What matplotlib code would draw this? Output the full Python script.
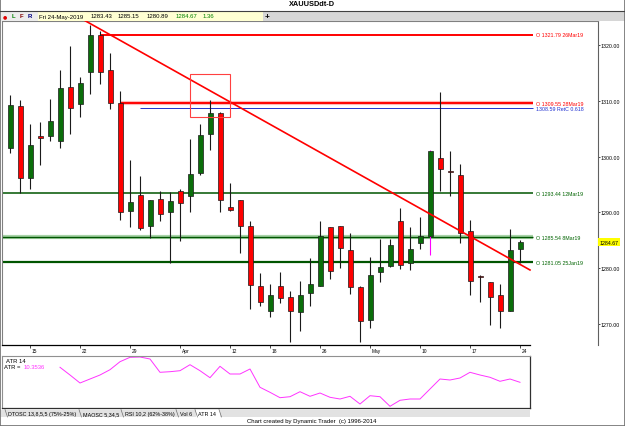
import matplotlib.pyplot as plt
from matplotlib.patches import Rectangle
from matplotlib.lines import Line2D
from matplotlib.transforms import blended_transform_factory

plt.rcParams['font.family'] = ['Liberation Sans', 'DejaVu Sans']

# =========================
# 数据：XAUUSD 日线 2019-03-13 ~ 2019-05-24
# =========================

dates = [
    '2019-03-13', '2019-03-14', '2019-03-15',
    '2019-03-18', '2019-03-19', '2019-03-20', '2019-03-21', '2019-03-22',
    '2019-03-25', '2019-03-26', '2019-03-27', '2019-03-28', '2019-03-29',
    '2019-04-01', '2019-04-02', '2019-04-03', '2019-04-04', '2019-04-05',
    '2019-04-08', '2019-04-09', '2019-04-10', '2019-04-11', '2019-04-12',
    '2019-04-15', '2019-04-16', '2019-04-17', '2019-04-18',
    '2019-04-22', '2019-04-23', '2019-04-24', '2019-04-25', '2019-04-26',
    '2019-04-29', '2019-04-30', '2019-05-01', '2019-05-02', '2019-05-03',
    '2019-05-06', '2019-05-07', '2019-05-08', '2019-05-09', '2019-05-10',
    '2019-05-13', '2019-05-14', '2019-05-15', '2019-05-16', '2019-05-17',
    '2019-05-20', '2019-05-21', '2019-05-22', '2019-05-23', '2019-05-24',
]

opens = [
    1301.6, 1309.0, 1296.1, 1303.7, 1303.6, 1302.8, 1312.4, 1309.4,
    1315.1, 1321.79, 1315.5, 1309.55, 1290.3, 1293.1, 1287.6, 1292.4,
    1290.0, 1293.8, 1292.9, 1297.1, 1304.0, 1307.8, 1290.9, 1292.2,
    1287.5, 1276.8, 1272.3, 1276.8, 1274.8, 1272.1, 1275.6, 1276.9,
    1287.3, 1287.5, 1283.3, 1276.6, 1270.8, 1279.3, 1280.5, 1288.5,
    1280.9, 1284.5, 1285.7, 1299.7, 1297.4, 1296.7, 1286.7, 1278.7,
    1277.6, 1275.2, 1272.3, 1283.43,
]
highs = [
    1311.0, 1310.1, 1305.8, 1306.1, 1310.3, 1315.4, 1319.8, 1314.2,
    1323.5, 1322.5, 1318.6, 1311.8, 1299.3, 1296.5, 1292.3, 1293.9,
    1293.7, 1294.1, 1303.1, 1305.8, 1310.1, 1307.9, 1295.3, 1292.3,
    1288.5, 1279.2, 1277.2, 1279.4, 1276.0, 1277.7, 1281.8, 1288.5,
    1287.3, 1287.6, 1286.4, 1276.9, 1282.1, 1285.2, 1285.2, 1290.8,
    1287.3, 1289.1, 1301.2, 1311.5, 1300.9, 1298.7, 1288.7, 1278.8,
    1277.6, 1277.2, 1287.0, 1285.15,
]
lows = [
    1300.6, 1293.5, 1294.1, 1298.4, 1302.7, 1301.6, 1304.0, 1307.0,
    1311.1, 1312.9, 1308.5, 1288.7, 1287.3, 1286.9, 1285.5, 1288.5,
    1281.0, 1284.9, 1290.1, 1296.7, 1301.2, 1290.1, 1290.3, 1282.7,
    1272.7, 1273.3, 1271.3, 1273.8, 1266.8, 1268.7, 1273.3, 1276.9,
    1278.1, 1280.0, 1275.4, 1266.8, 1269.4, 1277.5, 1280.2, 1279.9,
    1279.7, 1283.5, 1282.3, 1293.9, 1293.0, 1284.5, 1275.3, 1274.0,
    1269.9, 1269.4, 1272.3, 1280.89,
]
closes = [
    1309.3, 1296.2, 1302.0, 1303.3, 1306.3, 1312.2, 1308.6, 1313.1,
    1321.7, 1315.2, 1309.6, 1290.0, 1291.9, 1287.2, 1292.3, 1289.8,
    1292.0, 1291.6, 1296.8, 1303.8, 1307.7, 1292.2, 1290.4, 1287.6,
    1277.0, 1273.9, 1275.3, 1274.7, 1272.3, 1275.3, 1277.2, 1285.7,
    1279.6, 1283.6, 1276.6, 1270.6, 1278.8, 1280.3, 1284.2, 1280.6,
    1283.5, 1285.8, 1300.9, 1297.8, 1297.2, 1286.4, 1277.7, 1278.4,
    1274.8, 1272.3, 1283.3, 1284.67,
]

# ATR(14)，从 2019-03-20 开始
atr_start = '2019-03-20'
atr_values = [
    11.85, 11.08, 10.28, 10.68, 11.08, 11.61, 12.41, 12.85, 12.88, 12.68,
    11.35, 11.41, 11.51, 12.11, 11.51, 10.81, 11.95, 11.18, 11.18, 11.68,
    9.85, 9.35, 8.81, 8.91, 9.41, 8.95, 9.28, 8.85, 8.68, 8.95,
    8.18, 9.01, 8.91, 7.95, 8.55, 8.68, 8.68, 9.68, 10.68, 10.58,
    10.78, 11.35, 11.08, 10.85, 10.45, 10.68, 10.35,
]

tick_dates = ['2019-03-15', '2019-03-22', '2019-03-29', '2019-04-05',
              '2019-04-12', '2019-04-18', '2019-04-26', '2019-05-03',
              '2019-05-10', '2019-05-17', '2019-05-24']
tick_labels = ['15', '22', '29', 'Apr', '12', '18', '26', 'May', '10', '17', '24']

price_ticks = [1270, 1280, 1290, 1300, 1310, 1320]

# 水平线
level_prices = [1321.79, 1309.55, 1308.59, 1293.44, 1285.54, 1281.05]
level_labels = ['O 1321.79 26Mar19', 'O 1309.55 28Mar19', '1308.59 RetC 0.618',
                'O 1293.44 12Mar19', 'O 1285.54 8Mar19', 'O 1281.05 25Jan19']
level_starts = ['2019-03-26', '2019-03-28', '2019-04-01', None, None, None]

# 趋势线 (bar 序号, 价格) 和 红框
trend_x = [7.5, 52.0]
trend_y = [1324.3, 1279.7]
box_dates = ['2019-04-08', '2019-04-12']
box_prices = [1307.0, 1314.7]

highlight_date = '2019-05-13'
last_info = ['Fri 24-May-2019', '1283.43', '1285.15', '1280.89', '1284.67', '1.36']

# =========================
# 画图
# =========================

W, H = 625, 427
RED = '#ff0000'
GREEN = '#0a6e0a'
DKGREEN = '#005500'


def fx(px):
    return px / W


def fy(py):
    return 1 - py / H


fig = plt.figure(figsize=(W / 100, H / 100), dpi=100)
fig.patch.set_facecolor('white')

ax = fig.add_axes([fx(2), fy(346), 596 / W, 324 / H])
ax.set_xlim(-0.8, 58.8)
ax.set_ylim(1266.28, 1324.24)

n = len(dates)
for i in range(n):
    o, h, l, c = opens[i], highs[i], lows[i], closes[i]
    wick = '#ff00ff' if dates[i] == highlight_date else '#1a1a1a'
    ax.vlines(i, l, h, color=wick, lw=0.8, zorder=3)
    ax.add_patch(Rectangle((i - 0.25, min(o, c)), 0.5, max(abs(c - o), 0.25),
                           fc=GREEN if c >= o else RED, ec='#1a1a1a',
                           lw=0.5, zorder=4))

line_end = 52.3
level_colors = [RED, RED, '#2030d0', DKGREEN, DKGREEN, DKGREEN]
level_text_colors = [RED, RED, '#2030d0', '#006400', '#006400', '#006400']
level_lw = [1.4, 1.4, 0.7, 1.1, 1.0, 1.6]
level_halo = [None, '#ffb8b8', None, None, '#a8d4a8', None]
for p, lab, st, col, tcol, lw, halo in zip(level_prices, level_labels, level_starts,
                                             level_colors, level_text_colors,
                                             level_lw, level_halo):
    x0 = dates.index(st) if st else -0.8
    if halo:
        ax.hlines(p, x0, line_end, color=halo, lw=3.0, zorder=2)
    ax.hlines(p, x0, line_end, color=col, lw=lw, zorder=2)
    ax.text(line_end + 0.35, p, lab, color=tcol, fontsize=3.8,
            va='center', ha='left')

ax.plot(trend_x, trend_y, color=RED, lw=1.2, zorder=5)

bx0, bx1 = dates.index(box_dates[0]), dates.index(box_dates[1])
ax.add_patch(Rectangle((bx0, box_prices[0]), bx1 - bx0,
                       box_prices[1] - box_prices[0],
                       fill=False, ec='#ff4040', lw=0.8, zorder=6))

# 坐标轴
for s in ['left', 'top']:
    ax.spines[s].set_color('#808080')
    ax.spines[s].set_linewidth(0.8)
ax.spines['right'].set_color('#606060')
ax.spines['right'].set_linewidth(0.8)
ax.spines['bottom'].set_bounds(-0.8, 52)
ax.spines['bottom'].set_linewidth(0.9)

ax.yaxis.tick_right()
ax.set_yticks(price_ticks)
ax.set_yticklabels(['%.2f' % v for v in price_ticks])
ax.tick_params(axis='y', length=1.5, width=0.5, pad=0.5, labelsize=3.8)

tick_pos = [dates.index(d) for d in tick_dates]
ax.set_xticks(tick_pos)
ax.set_xticklabels([])
ax.tick_params(axis='x', length=2, width=0.5)
xtr = ax.get_xaxis_transform()
for pos, lab in zip(tick_pos, tick_labels):
    ax.text(pos + 0.15, -0.009, lab, transform=xtr, fontsize=3.5,
            ha='left', va='top')

ytr = blended_transform_factory(ax.transAxes, ax.transData)
ax.text(1.003, closes[-1], '%.2f' % closes[-1], transform=ytr, fontsize=3.8,
        ha='left', va='center',
        bbox=dict(boxstyle='square,pad=0.25', fc='#ffff00', ec='none'))

# ATR 面板
ax2 = fig.add_axes([fx(2), fy(409), 528 / W, 52 / H])
ax2.set_xlim(-0.8, 52)
ax2.set_ylim(7.78, 12.98)
a0 = dates.index(atr_start)
ax2.plot(range(a0, a0 + len(atr_values)), atr_values, color='#ff33ff', lw=0.7)
ax2.set_xticks([])
ax2.set_yticks([])
for s in ['left', 'top']:
    ax2.spines[s].set_color('#909090')
    ax2.spines[s].set_linewidth(0.8)
for s in ['right', 'bottom']:
    ax2.spines[s].set_color('#303030')
    ax2.spines[s].set_linewidth(0.9)
ax2.text(0.008, 0.92, 'ATR 14', transform=ax2.transAxes, fontsize=4.2,
         va='center', ha='left')
ax2.text(0.004, 0.79, 'ATR = ', transform=ax2.transAxes, fontsize=4.2,
         va='center', ha='left')
ax2.text(0.04, 0.79, '%.4f' % 10.3536, transform=ax2.transAxes, fontsize=4.2,
         va='center', ha='left', color='#ff33ff')

# 标题和工具栏
fig.text(fx(312), fy(5), 'XAUUSDdt-D', ha='center', va='center',
         fontsize=5.3, weight='bold')
fig.add_artist(Line2D([0, 1], [fy(12), fy(12)], color='#404040', lw=0.8))
fig.add_artist(Rectangle((0, fy(21.5)), 1, (21.5 - 12.5) / H,
                         transform=fig.transFigure, fc='#d6d6d6', ec='none'))
fig.add_artist(Rectangle((0, fy(21.5)), fx(38), (21.5 - 12.5) / H,
                         transform=fig.transFigure, fc='#ececec', ec='none'))
fig.add_artist(Rectangle((fx(38), fy(21.5)), fx(225), (21.5 - 12.5) / H,
                         transform=fig.transFigure, fc='#ffffd2', ec='none'))
fig.text(fx(3), fy(17), '●', color='#e00000', fontsize=3.5, va='center',
         family=['DejaVu Sans'])
for px, ch, col in zip([12, 20, 27.5], ['L', 'F', 'R'],
                       ['#008000', '#800000', '#000080']):
    fig.text(fx(px), fy(17), ch, color=col, fontsize=4.3, va='center',
             weight='bold')
info_x = [39, 91, 118, 147, 176, 203]
info_c = ['black', 'black', 'black', 'black', '#008000', '#008000']
for px, t, col in zip(info_x, last_info, info_c):
    fig.text(fx(px), fy(17), t, color=col, fontsize=4.3, va='center')
fig.text(fx(267), fy(17), '+', fontsize=6, weight='bold', ha='center',
         va='center')

# 底部标签页
fig.add_artist(Rectangle((0, fy(418)), fx(530), 7.5 / H,
                         transform=fig.transFigure, fc='#e2e2e2', ec='none'))
tabs = ['DTOSC 13,8,5,5 (75%-25%)', 'MAOSC 5,34,5', 'RSI 10,2 (62%-38%)',
        'Vol 6', 'ATR 14']
tab_x = [8, 83, 125, 180, 198]
for k, (px, t) in enumerate(zip(tab_x, tabs)):
    if t == 'ATR 14':
        fig.add_artist(Rectangle((fx(px - 2), fy(418)), fx(24), 7.5 / H,
                                 transform=fig.transFigure, fc='white',
                                 ec='none'))
    fig.text(fx(px), fy(414.5), t, fontsize=3.9, va='center', ha='left')
for px in [5, 79, 121, 176, 195, 219]:
    fig.add_artist(Line2D([fx(px), fx(px + 2.5)], [fy(410.5), fy(418)],
                          color='#707070', lw=0.5))
fig.text(fx(312), fy(422), 'Chart created by Dynamic Trader  (c) 1996-2014',
         fontsize=4.3, ha='center', va='center')

fig.add_artist(Rectangle((0, 0), 1, 1, transform=fig.transFigure,
                         fill=False, ec='#707070', lw=1.2))

fig.savefig('out.png', dpi=100)
